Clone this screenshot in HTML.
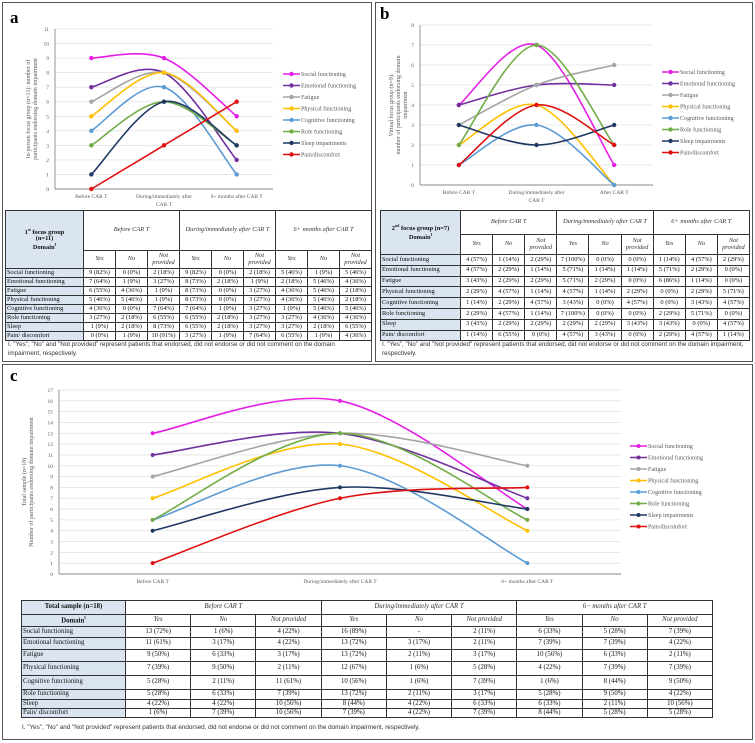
<!DOCTYPE html>
<html><head><meta charset="utf-8">
<style>
body{margin:0;width:755px;height:743px;background:#fff;position:relative;overflow:hidden;font-family:"Liberation Serif",serif}
.panel{position:absolute;border:1.5px solid #555;box-sizing:border-box}
.plab{position:absolute;font:bold 17px "Liberation Serif",serif}
svg{position:absolute;left:0;top:0}
table{position:absolute;border-collapse:collapse;table-layout:fixed;font-family:"Liberation Serif",serif;color:#111}
td{border:1px solid #333;padding:0;text-align:center;white-space:nowrap;overflow:hidden;line-height:1}
td.lab{text-align:left;background:#dbe5f1;padding-left:1px}
td.h{font-style:italic;color:#333;white-space:normal}
td.hd{background:#dbe5f1;font-weight:bold;white-space:normal}
.fn{position:absolute;font:6.3px "Liberation Sans",sans-serif;color:#333;line-height:9px}
</style></head><body>
<div class="panel" style="left:2px;top:2px;width:370px;height:360px"></div>
<div class="panel" style="left:375px;top:2px;width:378px;height:360px"></div>
<div class="panel" style="left:2px;top:364px;width:751px;height:376px"></div>
<div class="plab" style="left:10px;top:8px">a</div>
<div class="plab" style="left:380px;top:4px">b</div>
<div class="plab" style="left:10px;top:366px">c</div>
<svg id="chart" width="755" height="743"></svg>
<div id="tables"></div>
<div class="fn" style="left:8px;top:340px;width:360px">I. "Yes", "No" and "Not provided" represent patients that endorsed, did not endorse or did not comment on the domain impairment, respectively.</div>
<div class="fn" style="left:382px;top:340px;width:365px">I. "Yes", "No" and "Not provided" represent patients that endorsed, did not endorse or did not comment on the domain impairment, respectively.</div>
<div class="fn" style="left:22px;top:723px;width:700px">I. "Yes", "No" and "Not provided" represent patients that endorsed, did not endorse or did not comment on the domain impairment, respectively.</div>
<script>
const seriesNames=["Social functioning","Emotional functioning","Fatigue","Physical functioning","Cognitive functioning","Role functioning","Sleep impairments","Pain/discomfort"];
const colors=["#e51ee5","#7030a0","#a5a5a5","#ffc000","#5b9bd5","#70ad47","#1f3864","#e01010"];
const catsA=["Before CAR T","During/immediately after|CAR T","6+ months after CAR T"];
const catsB=["Before CAR T","During/immediately after|CAR T","After CAR T"];
const catsC=["Before CAR T","During/immediately after CAR T","6+ months after CAR T"];
const valuesA=[[9,9,5],[7,8,2],[6,8,4],[5,8,4],[4,7,1],[3,6,3],[1,6,3],[0,3,6]];
const valuesB=[[4,7,1],[4,5,5],[3,5,6],[2,4,0],[1,3,0],[2,7,2],[3,2,3],[1,4,2]];
const valuesC=[[13,16,6],[11,13,7],[9,13,10],[7,12,4],[5,10,1],[5,13,5],[4,8,6],[1,7,8]];
const ticksA=[0,1,2,3,4,5,6,7,8,9,10,11];
const ticksB=[0,1,2,3,4,5,6,7,8];
const ticksC=[0,1,2,3,4,5,6,7,8,9,10,11,12,13,14,15,16,17];

const rowLabels=["Social functioning","Emotional functioning","Fatigue","Physical functioning","Cognitive functioning","Role functioning","Sleep","Pain/ discomfort"];
const tableA=[["9 (82%)","0 (0%)","2 (18%)","9 (82%)","0 (0%)","2 (18%)","5 (46%)","1 (9%)","5 (46%)"],
["7 (64%)","1 (9%)","3 (27%)","8 (73%)","2 (18%)","1 (9%)","2 (18%)","5 (46%)","4 (36%)"],
["6 (55%)","4 (36%)","1 (9%)","8 (73%)","0 (0%)","3 (27%)","4 (36%)","5 (46%)","2 (18%)"],
["5 (46%)","5 (46%)","1 (9%)","8 (73%)","0 (0%)","3 (27%)","4 (36%)","5 (46%)","2 (18%)"],
["4 (36%)","0 (0%)","7 (64%)","7 (64%)","1 (9%)","3 (27%)","1 (9%)","5 (46%)","5 (46%)"],
["3 (27%)","2 (18%)","6 (55%)","6 (55%)","2 (18%)","3 (27%)","3 (27%)","4 (36%)","4 (36%)"],
["1 (9%)","2 (18%)","8 (73%)","6 (55%)","2 (18%)","3 (27%)","3 (27%)","2 (18%)","6 (55%)"],
["0 (0%)","1 (9%)","10 (91%)","3 (27%)","1 (9%)","7 (64%)","6 (55%)","1 (9%)","4 (36%)"]];
const tableB=[["4 (57%)","1 (14%)","2 (29%)","7 (100%)","0 (0%)","0 (0%)","1 (14%)","4 (57%)","2 (29%)"],
["4 (57%)","2 (29%)","1 (14%)","5 (71%)","1 (14%)","1 (14%)","5 (71%)","2 (29%)","0 (0%)"],
["3 (43%)","2 (29%)","2 (29%)","5 (71%)","2 (29%)","0 (0%)","6 (86%)","1 (14%)","0 (0%)"],
["2 (29%)","4 (57%)","1 (14%)","4 (57%)","1 (14%)","2 (29%)","0 (0%)","2 (29%)","5 (71%)"],
["1 (14%)","2 (29%)","4 (57%)","3 (43%)","0 (0%)","4 (57%)","0 (0%)","3 (43%)","4 (57%)"],
["2 (29%)","4 (57%)","1 (14%)","7 (100%)","0 (0%)","0 (0%)","2 (29%)","5 (71%)","0 (0%)"],
["3 (43%)","2 (29%)","2 (29%)","2 (29%)","2 (29%)","3 (43%)","3 (43%)","0 (0%)","4 (57%)"],
["1 (14%)","6 (55%)","0 (0%)","4 (57%)","3 (43%)","0 (0%)","2 (29%)","4 (57%)","1 (14%)"]];
const tableC=[["13 (72%)","1 (6%)","4 (22%)","16 (89%)","-","2 (11%)","6 (33%)","5 (28%)","7 (39%)"],
["11 (61%)","3 (17%)","4 (22%)","13 (72%)","3 (17%)","2 (11%)","7 (39%)","7 (39%)","4 (22%)"],
["9 (50%)","6 (33%)","3 (17%)","13 (72%)","2 (11%)","3 (17%)","10 (56%)","6 (33%)","2 (11%)"],
["7 (39%)","9 (50%)","2 (11%)","12 (67%)","1 (6%)","5 (28%)","4 (22%)","7 (39%)","7 (39%)"],
["5 (28%)","2 (11%)","11 (61%)","10 (56%)","1 (6%)","7 (39%)","1 (6%)","8 (44%)","9 (50%)"],
["5 (28%)","6 (33%)","7 (39%)","13 (72%)","2 (11%)","3 (17%)","5 (28%)","9 (50%)","4 (22%)"],
["4 (22%)","4 (22%)","10 (56%)","8 (44%)","4 (22%)","6 (33%)","6 (33%)","2 (11%)","10 (56%)"],
["1 (6%)","7 (39%)","10 (56%)","7 (39%)","4 (22%)","7 (39%)","8 (44%)","5 (28%)","5 (28%)"]];

const NS="http://www.w3.org/2000/svg";
const svg=document.getElementById('chart');
function mk(tag,attrs,parent){const e=document.createElementNS(NS,tag);for(const k in attrs)e.setAttribute(k,attrs[k]);(parent||svg).appendChild(e);return e;}
function txt(x,y,s,size,anchor,parent,extra){const t=mk('text',Object.assign({x:x,y:y,'font-size':size,'text-anchor':anchor||'middle','font-family':'Liberation Serif, serif',fill:'#595959'},extra||{}),parent);t.textContent=s;return t;}

function drawChart(id,cfg,cats,vals,ticks){
  const g=mk('g',{});
  
  
  const maxT=ticks[ticks.length-1];
  const yS=v=>cfg.yb-(v/maxT)*(cfg.yb-cfg.yt);
  const band=(cfg.x1-cfg.x0)/cats.length;
  const xS=i=>cfg.x0+band*(i+0.5);
  ticks.forEach(t=>{
    const l=mk('line',{x1:cfg.x0,x2:cfg.x1,y1:yS(t),y2:yS(t),stroke:t===0?'#888':'#e3e3e3','stroke-width':t===0?0.9:0.8},g);
    
    
    const tl=txt(cfg.x0-6,yS(t)+2,String(t),cfg.tf,'end',g);
    
    
  });
  mk('line',{x1:cfg.x0,x2:cfg.x0,y1:cfg.yt,y2:cfg.yb,stroke:'#888','stroke-width':0.9},g);
  cats.forEach((c,i)=>{
    c.split('|').forEach((p,j)=>{
      const t=txt(xS(i),cfg.yb+9+j*8,p,cfg.tf,'middle',g);
      
      
    });
  });
  const ya=mk('text',{transform:`translate(${cfg.ylx},${(cfg.yt+cfg.yb)/2}) rotate(-90)`,'font-size':cfg.tf+0.5,'text-anchor':'middle','font-family':'Liberation Serif, serif',fill:'#595959'},g);
  
  
  cfg.ylabel.forEach((s,j)=>{const ts=mk('tspan',{x:0,dy:j===0?0:cfg.tf+1.5},ya);ts.textContent=s;});
  vals.forEach((arr,si)=>{
    const pts=arr.map((v,i)=>[xS(i),yS(v)]);
    let d=`M${pts[0][0]},${pts[0][1]}`;
    for(let i=0;i<pts.length-1;i++){
      const p0=pts[Math.max(0,i-1)],p1=pts[i],p2=pts[i+1],p3=pts[Math.min(pts.length-1,i+2)];
      const c1=[p1[0]+(p2[0]-p0[0])/6,p1[1]+(p2[1]-p0[1])/6];
      const c2=[p2[0]-(p3[0]-p1[0])/6,p2[1]-(p3[1]-p1[1])/6];
      d+=` C${c1[0]},${c1[1]} ${c2[0]},${c2[1]} ${p2[0]},${p2[1]}`;
    }
    const path=mk('path',{d:d,fill:'none',stroke:colors[si],'stroke-width':cfg.lw},g);
    
    
    pts.forEach(p=>{
      const c=mk('circle',{cx:p[0],cy:p[1],r:cfg.mr,fill:colors[si]},g);
      
      
    });
    const ly=cfg.ly0+si*cfg.lstep;
    const lg=mk('g',{},g);
    
    
    mk('line',{x1:cfg.lx,x2:cfg.lx+17,y1:ly,y2:ly,stroke:colors[si],'stroke-width':cfg.lw},lg);
    mk('circle',{cx:cfg.lx+8.5,cy:ly,r:cfg.mr,fill:colors[si]},lg);
    txt(cfg.lx+18,ly+2,seriesNames[si],cfg.tf+0.6,'start',lg);
  });
}
drawChart('chart-a',{x0:55,x1:273,yt:29,yb:189,tf:5.5,lw:1.6,mr:2.2,lx:283,ly0:74,lstep:11.5,ylx:30,
  ylabel:["In-person focus group (n=11): number of","participants endorsing domain impairment"]},catsA,valuesA,ticksA);
drawChart('chart-b',{x0:420,x1:653,yt:25,yb:185,tf:5.5,lw:1.6,mr:2.2,lx:662,ly0:72,lstep:11.5,ylx:393,
  ylabel:["Virtual focus group (n=9):","number of participants endorsing domain","impairment"]},catsB,valuesB,ticksB);
drawChart('chart-c',{x0:59,x1:621,yt:390,yb:574,tf:5.5,lw:1.6,mr:2,lx:630,ly0:446,lstep:11.5,ylx:26,
  ylabel:["Total sample (n=18)","Number of participants endorsing domain impairment"]},catsC,valuesC,ticksC);

function buildTable(id,cfg,data){
  const t=document.createElement('table');
  
  
  t.style.left=cfg.x+'px';t.style.top=cfg.y+'px';t.style.width=cfg.w+'px';t.style.fontSize=cfg.fs+'px';
  let cg='<colgroup><col style="width:'+cfg.lw+'px">';
  for(let i=0;i<9;i++)cg+='<col>';
  cg+='</colgroup>';
  let h=cg;
  if(cfg.compact){
    h+=`<tr style="height:${cfg.h1}px"><td class="hd">${cfg.title}</td>`+cfg.groups.map(g=>`<td class="h" colspan="3">${g}</td>`).join('')+'</tr>';
    h+=`<tr style="height:${cfg.h2}px"><td class="hd">Domain<sup style="font-size:4px">I</sup></td>`+cfg.groups.map(()=>'<td class="h">Yes</td><td class="h">No</td><td class="h">Not provided</td>').join('')+'</tr>';
  }else{
    h+=`<tr style="height:${cfg.h1}px"><td class="hd" rowspan="2" style="text-align:center">${cfg.title}<br>Domain<sup style="font-size:4px">I</sup></td>`+cfg.groups.map(g=>`<td class="h" colspan="3">${g}</td>`).join('')+'</tr>';
    h+=`<tr style="height:${cfg.h2}px">`+cfg.groups.map(()=>'<td class="h">Yes</td><td class="h">No</td><td class="h" style="line-height:1">Not provided</td>').join('')+'</tr>';
  }
  data.forEach((r,i)=>{
    h+=`<tr style="height:${cfg.rh[i]}px"><td class="lab">${rowLabels[i]}</td>`+r.map(v=>`<td>${v}</td>`).join('')+'</tr>';
  });
  t.innerHTML=h;
  document.getElementById('tables').appendChild(t);
}
buildTable('table-a',{x:5,y:210,w:367,lw:78,fs:6.4,h1:40,h2:18,rh:[9,9,9,9,9,9,9,9],title:'1<sup style="font-size:4px">st</sup> focus group<br>(n=11)',groups:["Before CAR T","During/immediately after CAR T","6+ months after CAR T"]},tableA);
buildTable('table-b',{x:380,y:210,w:370,lw:80,fs:6.4,h1:24,h2:20,rh:[10.8,10.8,10.8,10.8,10.8,10.8,10.8,10.8],title:'2<sup style="font-size:4px">nd</sup> focus group (n=7)',groups:["Before CAR T","During/immediately after CAR T","6+ months after CAR T"]},tableB);
buildTable('table-c',{x:21,y:600,w:692,lw:104,fs:6.8,compact:true,h1:14,h2:12,rh:[11,12,12,14,14,10,9,9],title:'Total sample (n=18)',groups:["Before CAR T","During/immediately after CAR T","6− months after CAR T"]},tableC);
</script>
</body></html>
